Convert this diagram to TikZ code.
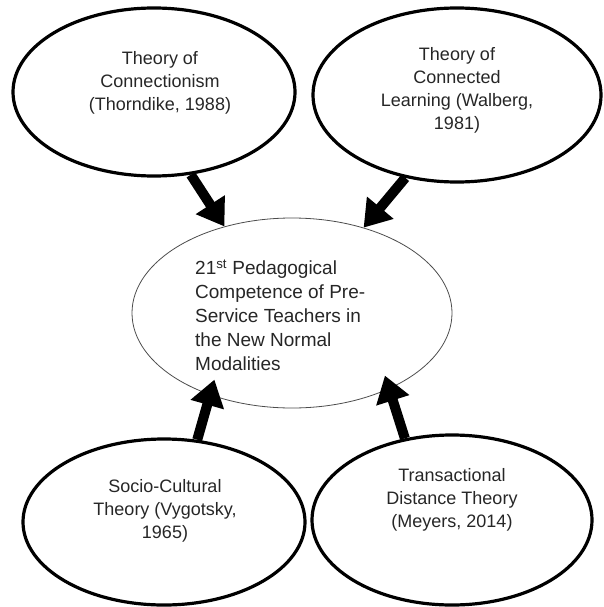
\documentclass[tikz,border=0pt]{standalone}
\usepackage{fontspec}
\setmainfont{Liberation Sans}
\usetikzlibrary{shapes.geometric,arrows.meta}
\begin{document}
\begin{tikzpicture}[x=1pt,y=-1pt,
  outer/.style={draw=black, line width=3.2pt, ellipse, inner sep=0pt},
  inner/.style={draw=black!70, line width=0.8pt, ellipse, inner sep=0pt},
  lbl/.style={align=center, text=black!85, font=\fontsize{18}{23}\selectfont, inner sep=0pt},
  clbl/.style={align=left, text=black!85, font=\fontsize{19}{24}\selectfont, inner sep=0pt},
  bigarrow/.style={line width=10pt, -{Triangle[width=33pt,length=26pt]}}]
\useasboundingbox (0,0) rectangle (603,607);
\node[outer, minimum width=282pt, minimum height=168pt] (tl) at (154,92) {};
\node[outer, minimum width=288pt, minimum height=174pt] (tr) at (457,95) {};
\node[inner, minimum width=320pt, minimum height=190pt] (c) at (292,313) {};
\node[outer, minimum width=282pt, minimum height=166pt] (bl) at (164,522) {};
\node[outer, minimum width=280pt, minimum height=170pt] (br) at (452,520) {};
\node[lbl] (tlt) at (160,83) {Theory of\\Connectionism\\(Thorndike, 1988)};
\node[lbl] (trt) at (457,90) {Theory of\\Connected\\Learning (Walberg,\\1981)};
\node[lbl] (blt) at (165,511) {Socio-Cultural\\Theory (Vygotsky,\\1965)};
\node[lbl] (brt) at (452,500) {Transactional\\Distance Theory\\(Meyers, 2014)};
\node[clbl, anchor=west] (ct) at (195,315) {21\textsuperscript{st} Pedagogical\\Competence of Pre-\\Service Teachers in\\the New Normal\\Modalities};
\draw[bigarrow] (tl.-66) -- (c.128);
\draw[bigarrow] (tr.-122) -- (c.50);
\draw[bigarrow, shorten >=-16pt] (bl.68) -- (c.-135);
\draw[bigarrow, shorten >=-14pt] (br.120) -- (c.-38);
\end{tikzpicture}
\end{document}
